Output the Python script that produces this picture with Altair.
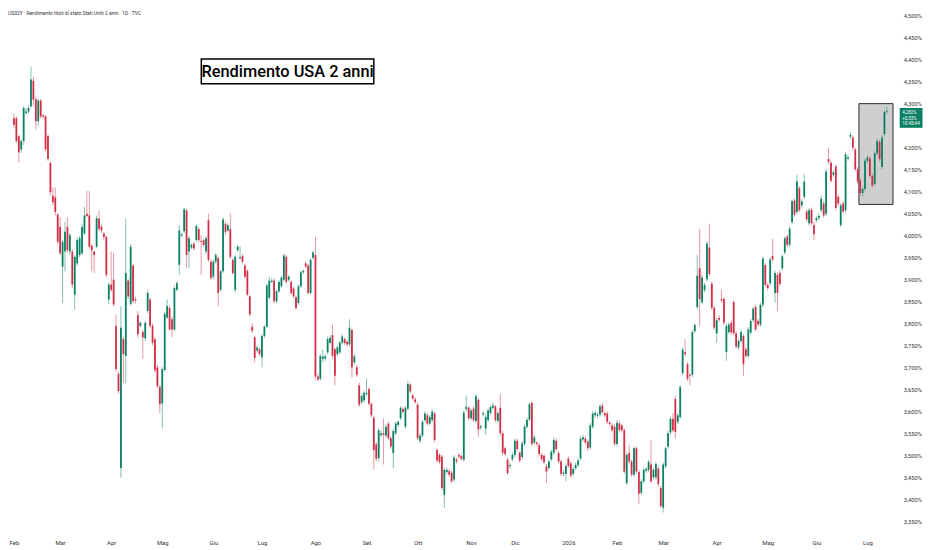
import json
import altair as alt
import pandas as pd

# ---------------- data ----------------
header_text = "US02Y · Rendimento titoli di stato Stati Uniti 2 anni · 1D · TVC"
title_text = "Rendimento USA 2 anni"
price_label_lines = ["4,282%", "+0,33%", "10:45:44"]

month_labels = ["Feb", "Mar", "Apr", "Mag", "Giu", "Lug", "Ago", "Set", "Ott",
                "Nov", "Dic", "2026", "Feb", "Mar", "Apr", "Mag", "Giu", "Lug"]
# trading sessions in each month (Feb 2025 ... Jun 2026)
month_sessions = [19, 21, 21, 21, 20, 22, 21, 21, 22, 18, 22, 20, 19, 22, 21, 20, 21]

y_tick_values = [3.35, 3.40, 3.45, 3.50, 3.55, 3.60, 3.65, 3.70, 3.75, 3.80, 3.85,
                 3.90, 3.95, 4.00, 4.05, 4.10, 4.15, 4.20, 4.30, 4.35, 4.40, 4.45, 4.50]

# highlighted box (session index range, yield range)
box_sessions = [347.5, 361.5]
box_yields = [4.070, 4.299]

opens = [
    4.266, 4.266, 4.225, 4.195, 4.214, 4.278, 4.281, 4.293, 4.351, 4.309,
    4.259, 4.306, 4.272, 4.270, 4.225, 4.164, 4.090, 4.086, 4.047, 4.019,
    3.929, 3.963, 4.019, 3.963, 3.963, 3.865, 3.936, 3.955, 3.959, 4.004,
    4.049, 4.045, 3.976, 3.963, 3.974, 4.038, 4.019, 4.004, 3.996, 3.854,
    3.888, 3.899, 3.794, 3.685, 3.471, 3.764, 3.726, 3.897, 3.844, 3.931,
    3.855, 3.818, 3.794, 3.780, 3.766, 3.828, 3.854, 3.794, 3.764, 3.700,
    3.655, 3.618, 3.694, 3.813,
    3.835, 3.809, 3.786, 3.876, 3.933, 3.999, 4.009, 4.056, 3.963, 3.972,
    3.981, 3.989, 4.014, 3.987, 3.989, 3.963, 4.034, 3.940, 3.906, 3.940,
    3.948, 3.876, 3.918, 4.026, 4.011, 4.014, 3.944, 3.876, 3.966, 3.948,
    3.953, 3.931, 3.919, 3.861, 3.792, 3.768, 3.738, 3.741, 3.723, 3.771,
    3.792, 3.858, 3.894, 3.897, 3.850, 3.873, 3.884, 3.899, 3.951, 3.899,
    3.894, 3.879, 3.859, 3.846, 3.884, 3.916, 3.936, 3.931, 3.869, 3.949,
    3.955, 3.679,
    3.674, 3.719, 3.720, 3.734, 3.756, 3.773, 3.741, 3.730, 3.734, 3.756,
    3.764, 3.758, 3.752, 3.784, 3.711, 3.700, 3.659, 3.621, 3.625, 3.639,
    3.650, 3.617, 3.585, 3.525, 3.494, 3.546, 3.550, 3.545, 3.572, 3.539,
    3.505, 3.550, 3.569, 3.584, 3.605, 3.565, 3.606, 3.661, 3.636, 3.627,
    3.615, 3.533, 3.545, 3.580, 3.591, 3.572, 3.580, 3.595, 3.512, 3.501,
    3.497, 3.410, 3.462, 3.464, 3.460, 3.445, 3.490, 3.501, 3.498, 3.490,
    3.605, 3.608, 3.584,
    3.606, 3.578, 3.626, 3.563, 3.593, 3.561, 3.580, 3.596, 3.608, 3.611,
    3.578, 3.608, 3.550, 3.516, 3.490, 3.475, 3.491, 3.501, 3.533, 3.506,
    3.496, 3.526, 3.565, 3.581, 3.619, 3.529, 3.529, 3.523, 3.501, 3.499,
    3.475, 3.471, 3.491, 3.506, 3.533, 3.505, 3.486, 3.458, 3.458, 3.493,
    3.482, 3.458, 3.471, 3.478, 3.493, 3.536, 3.538, 3.531, 3.518, 3.565,
    3.591, 3.590, 3.593, 3.613, 3.596, 3.595, 3.574, 3.568, 3.565, 3.526,
    3.572, 3.568, 3.557,
    3.437, 3.505, 3.486, 3.456, 3.516, 3.462, 3.415, 3.441, 3.465, 3.467,
    3.479, 3.450, 3.450, 3.470, 3.426, 3.381, 3.475, 3.520, 3.552, 3.583,
    3.628, 3.576, 3.587, 3.687, 3.734, 3.707, 3.683, 3.683, 3.782, 3.837,
    3.925, 3.848, 3.875, 3.900, 3.972, 3.890, 3.835, 3.777, 3.812, 3.855,
    3.855, 3.735, 3.780, 3.801, 3.848, 3.777, 3.745, 3.760, 3.771, 3.741,
    3.726, 3.779, 3.807, 3.837, 3.805, 3.797, 3.842, 3.932, 3.887, 3.891,
    3.953,
    3.869, 3.910, 3.914, 3.925, 3.961, 3.997, 3.979, 4.030, 4.079, 4.053,
    4.107, 4.068, 4.087, 4.054, 4.027, 4.058, 4.023, 4.034, 4.039, 4.057,
    4.072, 4.049, 4.173, 4.165, 4.137, 4.156, 4.087, 4.023, 4.072, 4.057,
    4.174, 4.224, 4.222, 4.195, 4.150, 4.124, 4.096, 4.105, 4.169, 4.174,
    4.135, 4.117, 4.186, 4.212, 4.155, 4.230, 4.280,
]

highs = [
    4.276, 4.270, 4.229, 4.218, 4.293, 4.289, 4.295, 4.383, 4.360, 4.315,
    4.310, 4.310, 4.276, 4.273, 4.230, 4.168, 4.109, 4.109, 4.050, 4.041,
    3.990, 4.030, 4.041, 4.005, 3.968, 3.955, 3.995, 3.998, 4.025, 4.064,
    4.101, 4.101, 3.980, 3.965, 4.045, 4.056, 4.025, 4.008, 4.000, 3.893,
    3.963, 3.960, 3.820, 3.690, 3.839, 3.770, 4.038, 3.900, 3.980, 3.935,
    3.860, 3.828, 3.805, 3.785, 3.805, 3.875, 3.858, 3.800, 3.768, 3.705,
    3.660, 3.700, 3.826, 3.854,
    3.840, 3.815, 3.885, 3.896, 4.023, 4.006, 4.062, 4.060, 3.998, 3.982,
    3.985, 4.025, 4.018, 4.000, 3.992, 3.998, 4.049, 3.945, 3.945, 3.960,
    3.952, 3.922, 4.041, 4.030, 4.027, 4.049, 3.948, 3.955, 3.978, 3.975,
    3.957, 3.935, 3.923, 3.865, 3.800, 3.772, 3.750, 3.745, 3.775, 3.796,
    3.890, 3.905, 3.902, 3.902, 3.877, 3.898, 3.908, 3.958, 3.955, 3.910,
    3.898, 3.883, 3.863, 3.888, 3.920, 3.923, 3.940, 3.935, 3.948, 3.965,
    3.996, 3.685,
    3.730, 3.741, 3.730, 3.770, 3.772, 3.797, 3.745, 3.750, 3.760, 3.775,
    3.768, 3.762, 3.809, 3.788, 3.730, 3.705, 3.665, 3.640, 3.647, 3.675,
    3.655, 3.620, 3.590, 3.530, 3.562, 3.555, 3.584, 3.570, 3.577, 3.543,
    3.560, 3.577, 3.580, 3.612, 3.610, 3.612, 3.670, 3.665, 3.640, 3.632,
    3.620, 3.550, 3.580, 3.600, 3.596, 3.592, 3.604, 3.600, 3.517, 3.505,
    3.502, 3.472, 3.472, 3.469, 3.465, 3.500, 3.495, 3.505, 3.502, 3.602,
    3.636, 3.612, 3.607,
    3.612, 3.640, 3.630, 3.570, 3.600, 3.592, 3.607, 3.614, 3.620, 3.615,
    3.600, 3.640, 3.555, 3.520, 3.495, 3.483, 3.506, 3.538, 3.538, 3.510,
    3.532, 3.570, 3.586, 3.620, 3.623, 3.546, 3.532, 3.528, 3.505, 3.503,
    3.480, 3.490, 3.513, 3.540, 3.538, 3.510, 3.490, 3.466, 3.480, 3.498,
    3.487, 3.474, 3.483, 3.493, 3.543, 3.546, 3.543, 3.536, 3.573, 3.600,
    3.601, 3.598, 3.616, 3.620, 3.600, 3.600, 3.578, 3.573, 3.570, 3.580,
    3.578, 3.572, 3.562,
    3.506, 3.524, 3.490, 3.520, 3.520, 3.467, 3.446, 3.472, 3.474, 3.490,
    3.535, 3.472, 3.485, 3.475, 3.431, 3.484, 3.520, 3.555, 3.588, 3.595,
    3.635, 3.596, 3.660, 3.745, 3.764, 3.712, 3.686, 3.785, 3.800, 3.955,
    4.015, 3.910, 3.892, 3.986, 4.026, 3.895, 3.840, 3.812, 3.818, 3.876,
    3.860, 3.799, 3.802, 3.806, 3.853, 3.782, 3.765, 3.785, 3.776, 3.746,
    3.791, 3.810, 3.838, 3.842, 3.810, 3.847, 3.952, 3.937, 3.892, 3.950,
    3.992,
    3.920, 3.915, 3.920, 3.957, 3.998, 4.002, 4.020, 4.082, 4.084, 4.137,
    4.112, 4.082, 4.139, 4.059, 4.062, 4.063, 4.030, 4.044, 4.049, 4.090,
    4.077, 4.150, 4.199, 4.170, 4.148, 4.161, 4.092, 4.073, 4.077, 4.190,
    4.182, 4.234, 4.227, 4.200, 4.155, 4.129, 4.110, 4.174, 4.182, 4.180,
    4.140, 4.191, 4.219, 4.217, 4.228, 4.285, 4.292,
]

lows = [
    4.244, 4.209, 4.165, 4.188, 4.205, 4.274, 4.276, 4.289, 4.293, 4.240,
    4.248, 4.265, 4.265, 4.190, 4.169, 4.090, 4.068, 4.045, 3.980, 3.955,
    3.846, 3.918, 3.960, 3.955, 3.880, 3.831, 3.930, 3.950, 3.955, 4.000,
    4.040, 3.970, 3.918, 3.914, 3.970, 4.010, 4.005, 3.990, 3.905, 3.843,
    3.870, 3.839, 3.690, 3.640, 3.449, 3.663, 3.663, 3.855, 3.840, 3.845,
    3.845, 3.768, 3.790, 3.719, 3.760, 3.823, 3.790, 3.750, 3.688, 3.652,
    3.595, 3.561, 3.690, 3.810,
    3.783, 3.768, 3.782, 3.872, 3.910, 3.995, 4.005, 3.925, 3.925, 3.968,
    3.965, 3.985, 3.985, 3.910, 3.974, 3.958, 3.940, 3.898, 3.900, 3.935,
    3.839, 3.872, 3.914, 4.000, 4.007, 3.946, 3.910, 3.870, 3.962, 3.944,
    3.936, 3.902, 3.861, 3.815, 3.778, 3.711, 3.733, 3.725, 3.700, 3.767,
    3.788, 3.854, 3.890, 3.845, 3.846, 3.869, 3.880, 3.895, 3.890, 3.895,
    3.865, 3.857, 3.830, 3.842, 3.880, 3.912, 3.925, 3.865, 3.865, 3.945,
    3.670, 3.668,
    3.670, 3.711, 3.715, 3.730, 3.752, 3.720, 3.659, 3.725, 3.730, 3.752,
    3.750, 3.748, 3.748, 3.677, 3.706, 3.678, 3.610, 3.616, 3.620, 3.635,
    3.612, 3.586, 3.467, 3.487, 3.486, 3.541, 3.479, 3.540, 3.534, 3.515,
    3.471, 3.546, 3.565, 3.580, 3.595, 3.560, 3.602, 3.640, 3.625, 3.617,
    3.534, 3.528, 3.540, 3.575, 3.567, 3.567, 3.575, 3.530, 3.483, 3.480,
    3.421, 3.381, 3.457, 3.451, 3.436, 3.440, 3.481, 3.492, 3.488, 3.486,
    3.600, 3.579, 3.580,
    3.575, 3.573, 3.542, 3.558, 3.588, 3.546, 3.575, 3.592, 3.604, 3.575,
    3.573, 3.545, 3.500, 3.498, 3.455, 3.470, 3.486, 3.496, 3.509, 3.483,
    3.491, 3.521, 3.560, 3.577, 3.520, 3.524, 3.521, 3.498, 3.486, 3.479,
    3.437, 3.466, 3.486, 3.500, 3.509, 3.481, 3.453, 3.453, 3.441, 3.471,
    3.449, 3.453, 3.466, 3.473, 3.488, 3.531, 3.524, 3.511, 3.513, 3.560,
    3.586, 3.585, 3.588, 3.593, 3.586, 3.571, 3.566, 3.552, 3.521, 3.520,
    3.552, 3.552, 3.458,
    3.432, 3.481, 3.451, 3.451, 3.458, 3.389, 3.410, 3.436, 3.460, 3.462,
    3.436, 3.445, 3.445, 3.430, 3.380, 3.370, 3.470, 3.515, 3.547, 3.552,
    3.538, 3.571, 3.582, 3.682, 3.725, 3.669, 3.659, 3.678, 3.777, 3.832,
    3.793, 3.843, 3.870, 3.895, 3.907, 3.830, 3.785, 3.756, 3.803, 3.847,
    3.796, 3.715, 3.775, 3.774, 3.772, 3.742, 3.740, 3.755, 3.681, 3.721,
    3.721, 3.774, 3.802, 3.781, 3.792, 3.792, 3.837, 3.882, 3.875, 3.886,
    3.940,
    3.847, 3.828, 3.884, 3.920, 3.956, 3.973, 3.974, 4.025, 4.042, 4.048,
    4.052, 4.063, 4.082, 4.031, 4.022, 4.022, 3.989, 4.029, 4.034, 4.052,
    4.040, 4.044, 4.162, 4.119, 4.132, 4.057, 4.067, 4.019, 4.049, 4.052,
    4.169, 4.219, 4.194, 4.145, 4.117, 4.091, 4.088, 4.100, 4.164, 4.130,
    4.108, 4.112, 4.181, 4.168, 4.150, 4.225, 4.276,
]

closes = [
    4.251, 4.214, 4.188, 4.214, 4.289, 4.281, 4.289, 4.354, 4.308, 4.259,
    4.306, 4.270, 4.269, 4.195, 4.173, 4.098, 4.075, 4.053, 3.985, 3.959,
    3.985, 4.008, 3.966, 4.000, 3.888, 3.951, 3.989, 3.993, 4.019, 4.045,
    4.044, 3.974, 3.966, 3.955, 4.039, 4.015, 4.011, 3.996, 3.910, 3.888,
    3.876, 3.843, 3.696, 3.646, 3.790, 3.730, 3.914, 3.861, 3.974, 3.850,
    3.852, 3.775, 3.801, 3.768, 3.801, 3.869, 3.794, 3.756, 3.693, 3.657,
    3.616, 3.696, 3.821, 3.839,
    3.786, 3.786, 3.880, 3.891, 4.011, 4.002, 4.059, 3.955, 3.993, 3.978,
    3.970, 4.021, 3.989, 3.985, 3.978, 3.993, 3.944, 3.903, 3.940, 3.955,
    3.869, 3.918, 4.036, 4.008, 4.023, 3.951, 3.914, 3.951, 3.974, 3.950,
    3.940, 3.906, 3.865, 3.820, 3.783, 3.721, 3.745, 3.730, 3.771, 3.792,
    3.886, 3.897, 3.897, 3.850, 3.873, 3.894, 3.904, 3.954, 3.894, 3.906,
    3.869, 3.861, 3.835, 3.884, 3.916, 3.919, 3.929, 3.869, 3.944, 3.961,
    3.679, 3.672,
    3.726, 3.724, 3.725, 3.764, 3.767, 3.726, 3.681, 3.745, 3.756, 3.770,
    3.755, 3.752, 3.790, 3.700, 3.725, 3.683, 3.615, 3.635, 3.642, 3.642,
    3.617, 3.591, 3.512, 3.492, 3.557, 3.550, 3.546, 3.565, 3.539, 3.520,
    3.555, 3.572, 3.576, 3.608, 3.599, 3.608, 3.662, 3.645, 3.629, 3.621,
    3.539, 3.545, 3.576, 3.595, 3.572, 3.587, 3.599, 3.535, 3.488, 3.485,
    3.426, 3.467, 3.467, 3.456, 3.441, 3.495, 3.486, 3.497, 3.492, 3.597,
    3.610, 3.584, 3.602,
    3.580, 3.634, 3.559, 3.566, 3.596, 3.587, 3.602, 3.610, 3.613, 3.580,
    3.596, 3.550, 3.506, 3.503, 3.460, 3.478, 3.501, 3.533, 3.514, 3.488,
    3.527, 3.565, 3.581, 3.616, 3.526, 3.541, 3.526, 3.503, 3.491, 3.484,
    3.463, 3.486, 3.508, 3.535, 3.514, 3.486, 3.458, 3.461, 3.476, 3.476,
    3.454, 3.469, 3.478, 3.488, 3.538, 3.541, 3.529, 3.516, 3.568, 3.595,
    3.596, 3.593, 3.611, 3.598, 3.591, 3.576, 3.571, 3.557, 3.526, 3.574,
    3.557, 3.557, 3.463,
    3.501, 3.486, 3.456, 3.516, 3.463, 3.413, 3.441, 3.467, 3.469, 3.485,
    3.441, 3.467, 3.480, 3.435, 3.385, 3.479, 3.516, 3.550, 3.583, 3.557,
    3.553, 3.591, 3.655, 3.740, 3.730, 3.674, 3.681, 3.780, 3.796, 3.908,
    3.855, 3.904, 3.887, 3.981, 3.912, 3.835, 3.790, 3.807, 3.808, 3.852,
    3.801, 3.794, 3.797, 3.779, 3.777, 3.747, 3.760, 3.780, 3.707, 3.726,
    3.786, 3.805, 3.833, 3.786, 3.797, 3.842, 3.947, 3.887, 3.880, 3.945,
    3.945,
    3.914, 3.869, 3.889, 3.952, 3.993, 3.978, 4.015, 4.077, 4.047, 4.122,
    4.057, 4.077, 4.122, 4.036, 4.057, 4.027, 4.002, 4.039, 4.044, 4.083,
    4.045, 4.144, 4.167, 4.124, 4.143, 4.062, 4.072, 4.068, 4.054, 4.184,
    4.177, 4.228, 4.199, 4.150, 4.122, 4.096, 4.105, 4.169, 4.177, 4.135,
    4.113, 4.186, 4.214, 4.173, 4.222, 4.280, 4.282,
]

n = min(len(opens), len(highs), len(lows), len(closes))
df = pd.DataFrame({
    "i": list(range(n)),
    "open": opens[:n],
    "high": highs[:n],
    "low": lows[:n],
    "close": closes[:n],
})
df["high"] = df[["high", "open", "close"]].max(axis=1)
df["low"] = df[["low", "open", "close"]].min(axis=1)
df["dir"] = ["up" if c >= o else "down" for o, c in zip(df["open"], df["close"])]

month_starts = [0]
for d in month_sessions:
    month_starts.append(month_starts[-1] + d)

# ---------------- styling ----------------
GREEN = "#0a8063"
RED = "#d12e45"
FONT = "Roboto"
W, H = 898, 527

xscale = alt.Scale(domain=[-0.403, 361.62], nice=False, zero=False)
yscale = alt.Scale(domain=[3.324, 4.511], nice=False, zero=False)
color = alt.Color("dir:N", scale=alt.Scale(domain=["up", "down"], range=[GREEN, RED]),
                  legend=None)

x_label_expr = (f"{json.dumps(month_labels)}"
                f"[indexof({json.dumps(month_starts)}, datum.value)]")
y_label_expr = "replace(format(datum.value, '.3f'), '.', ',') + '%'"

x_axis = alt.Axis(values=month_starts, labelExpr=x_label_expr, grid=False, ticks=False,
                  domain=False, labelFontSize=6, labelColor="#333333", labelFont=FONT,
                  labelPadding=7, labelOverlap=False, labelFlush=False, title=None)
y_axis = alt.Axis(values=y_tick_values, labelExpr=y_label_expr, orient="right", grid=False,
                  ticks=False, domain=False, labelFontSize=5.8, labelColor="#333333",
                  labelFont=FONT, labelAlign="left", labelPadding=5, labelOverlap=False,
                  title=None)

base = alt.Chart(df)

wicks = base.mark_rule(strokeWidth=1, opacity=0.5).encode(
    x=alt.X("i:Q", scale=xscale, axis=x_axis),
    y=alt.Y("low:Q", scale=yscale, axis=y_axis),
    y2="high:Q",
    color=color,
)

bodies = base.mark_bar(size=1.8, opacity=1).encode(
    x=alt.X("i:Q", scale=xscale, axis=x_axis),
    y=alt.Y("open:Q", scale=yscale, axis=y_axis),
    y2="close:Q",
    color=color,
)

box_df = pd.DataFrame({"x": [box_sessions[0]], "x2": [box_sessions[1]],
                       "y": [box_yields[0]], "y2": [box_yields[1]]})
box = alt.Chart(box_df).mark_rect(fill="#cfcfcf", stroke="#2b2b2b", strokeWidth=1).encode(
    x=alt.X("x:Q", scale=xscale, axis=x_axis), x2="x2:Q",
    y=alt.Y("y:Q", scale=yscale, axis=y_axis), y2="y2:Q",
)

one = pd.DataFrame({"t": [title_text]})
title_box = alt.Chart(one).mark_rect(fill="white", stroke="black", strokeWidth=1.5).encode(
    x=alt.value(195), x2=alt.value(369), y=alt.value(49), y2=alt.value(74),
)
title = alt.Chart(one).mark_text(font=FONT, fontSize=16.5, fontWeight=500, color="black",
                                 align="center", baseline="middle").encode(
    x=alt.value(282), y=alt.value(62), text="t:N",
)

header = alt.Chart(pd.DataFrame({"t": [header_text]})).mark_text(
    font=FONT, fontSize=5, color="#333333", align="left", baseline="top").encode(
    x=alt.value(0), y=alt.value(1), text="t:N",
)

price_box = alt.Chart(one).mark_rect(fill=GREEN).encode(
    x=alt.value(899.5), x2=alt.value(922.5), y=alt.value(98.5), y2=alt.value(118.5),
)
price_text = alt.Chart(pd.DataFrame({"t": ["\n".join(price_label_lines)]})).mark_text(
    font=FONT, fontSize=4.6, color="white", align="left", baseline="top",
    lineBreak="\n", lineHeight=5.8).encode(
    x=alt.value(902), y=alt.value(100.5), text="t:N",
)

chart = alt.layer(
    box, wicks, bodies, title_box, title, header, price_box, price_text
).properties(
    width=W, height=H,
    autosize=alt.AutoSizeParams(type="none"),
    padding={"left": 0, "top": 0, "right": 26, "bottom": 15},
    background="white",
).configure_view(stroke=None)

chart.save("out.html", embed_options={"renderer": "svg", "actions": False})
